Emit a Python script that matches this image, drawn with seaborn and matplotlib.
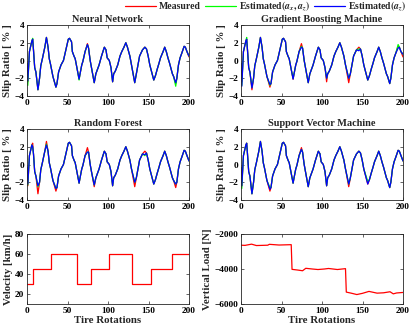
import numpy as np
import pandas as pd
import matplotlib
matplotlib.use("Agg")
import matplotlib.pyplot as plt
from matplotlib.lines import Line2D
import seaborn as sns

# ---------------- data ----------------
rot = [0, 1, 3, 6, 7, 8, 9.5, 11, 13.5, 15.5, 17, 19, 22, 24, 26, 27.5, 29, 32, 35.7, 37,
       39, 42, 45, 48, 51, 52.5, 55, 56, 58, 59.5, 62, 64.3, 65.5, 67.6, 69, 71.7, 74.6, 76,
       78, 80, 83, 85, 87, 89, 92, 95.5, 97.5, 99, 101.6, 103.7, 105.7, 107, 109, 112, 114.8,
       117, 119.7, 122, 124, 127, 129, 133, 135, 137, 139, 142.6, 145.5, 147.5, 149.6, 151.6,
       156.5, 158.6, 160.7, 163, 164.8, 168, 170, 172, 174, 176, 179.5, 181, 183.6, 185, 187,
       189, 191, 194, 195.5, 197.5, 200]
measured = [-0.3, -2.4, 1.0, 2.2, 2.4, 1.2, -0.8, -1.3, -3.3, -2.0, -0.6, 0.2, 1.5, 2.6, 1.5,
            0.2, -0.4, -1.8, -3.0, -2.6, -1.3, -0.5, 0.0, 1.2, 2.4, 2.5, 2.1, 1.0, 0.5, 0.2,
            -1.0, -2.1, -1.5, -0.5, -0.1, 1.0, 1.9, 1.4, 0.0, -1.0, -2.5, -1.5, -1.0, -0.5, 0.5,
            1.5, 1.2, 0.3, 0.0, -0.8, -2.4, -1.5, -1.2, -0.5, 0.5, 1.0, 1.5, 2.0, 1.5, 0.5,
            -0.5, -2.5, -1.5, -0.5, 0.5, 1.2, 1.5, 1.3, 0.5, -0.5, -2.2, -1.7, -1.0, -0.3, 0.3,
            1.0, 1.5, 1.0, 0.3, -0.3, -1.5, -1.8, -2.6, -2.0, -0.5, 0.3, 0.8, 1.6, 1.5, 1.0, 0.4]

# estimated values that differ from the measured ones (rotation -> slip ratio)
nn_axaz_diff = {1: -2.8, 7: 2.5, 64.3: -2.2, 74.6: 1.8, 183.6: -2.9, 200: 0.5}
nn_az_diff = {1: -2.3, 74.6: 1.8, 183.6: -2.5, 200: 0.5}
gbm_axaz_diff = {1: -2.8, 7: 2.6, 13.5: -3.0, 35.7: -2.8, 64.3: -2.0, 74.6: 1.6, 105.7: -2.0,
                 133: -2.0, 145.5: 1.3, 194: 1.8, 200: 0.7}
gbm_az_diff = {1: -2.9, 13.5: -3.1, 35.7: -2.7, 74.6: 1.5, 105.7: -2.0, 133: -2.0, 145.5: 1.1,
               194: 1.4, 200: 0.7}
rf_axaz_diff = {1: -2.3, 7: 2.0, 13.5: -2.5, 24: 2.3, 35.7: -2.7, 74.6: 1.4, 83: -2.3,
                133: -2.0, 145.5: 1.0, 183.6: -2.2}
rf_az_diff = {1: -2.2, 7: 2.0, 13.5: -2.4, 24: 2.2, 35.7: -2.7, 74.6: 1.4, 83: -2.3,
              133: -2.0, 145.5: 1.1, 183.6: -2.2}
svm_axaz_diff = {1: -2.7, 35.7: -2.6, 74.6: 1.7, 83: -2.5, 133: -2.2, 156.5: -1.9}
svm_az_diff = {1: -2.4, 13.5: -3.3, 35.7: -2.8, 74.6: 1.7, 133: -2.2}

vel_x = [0, 7, 7, 30, 30, 62, 62, 79, 79, 101.6, 101.6, 130, 130, 153, 153, 179, 179, 200]
vel_y = [30, 30, 45, 45, 60, 60, 30, 30, 45, 45, 60, 60, 30, 30, 45, 45, 60, 60]

load_x = [0, 5, 13, 19, 33, 35, 47, 62, 63, 70, 76, 80, 88, 95, 103, 108, 119, 129, 130,
          136, 143, 150, 158, 168, 176, 184, 188, 192, 200]
load_y = [-2640, -2650, -2580, -2660, -2640, -2590, -2630, -2610, -4020, -4060, -4100, -3960,
          -4000, -4030, -4000, -3970, -4030, -3980, -5320, -5380, -5460, -5390, -5280, -5380,
          -5360, -5300, -5420, -5370, -5340]

titles = ["Neural Network", "Gradient Boosting Machine", "Random Forest", "Support Vector Machine"]
diffs = [(nn_axaz_diff, nn_az_diff), (gbm_axaz_diff, gbm_az_diff),
         (rf_axaz_diff, rf_az_diff), (svm_axaz_diff, svm_az_diff)]

lab_m = "Measured"
lab_g = r"Estimated$(a_x, a_z)$"
lab_b = r"Estimated$(a_z)$"
palette = {lab_m: "#ff0000", lab_g: "#00ff00", lab_b: "#0000ff"}

# ---------------- style ----------------
sns.set_style("ticks")
plt.rcParams.update({
    "font.family": ["Liberation Serif", "DejaVu Serif"],
    "font.weight": "bold",
    "axes.labelweight": "bold",
    "axes.titleweight": "bold",
    "mathtext.fontset": "stix",
    "xtick.direction": "in",
    "ytick.direction": "in",
    "xtick.top": True,
    "ytick.right": True,
    "xtick.major.size": 2.5,
    "ytick.major.size": 2.5,
    "xtick.major.width": 0.5,
    "ytick.major.width": 0.5,
    "axes.linewidth": 0.6,
    "axes.edgecolor": "#262626",
    "xtick.color": "#262626",
    "ytick.color": "#262626",
    "xtick.labelcolor": "black",
    "ytick.labelcolor": "black",
    "xtick.labelsize": 6.7,
    "ytick.labelsize": 6.7,
})

fig = plt.figure(figsize=(4.15, 3.3), dpi=100)
W, H = 415.0, 330.0
def add_ax(x0, x1, y0, y1):
    return fig.add_axes([x0 / W, 1 - y1 / H, (x1 - x0) / W, (y1 - y0) / H])

cols = [(27, 189), (241, 403)]
rows = [(25, 96), (129, 200), (234, 304)]
LW = 0.9
LABEL_FS = 7.8

def est(diff):
    return [diff.get(r, m) for r, m in zip(rot, measured)]

for k, title in enumerate(titles):
    r, c = divmod(k, 2)
    ax = add_ax(cols[c][0], cols[c][1], rows[r][0], rows[r][1])
    g, b = diffs[k]
    df = pd.DataFrame({
        "rot": rot * 3,
        "slip": measured + est(g) + est(b),
        "series": [lab_m] * len(rot) + [lab_g] * len(rot) + [lab_b] * len(rot),
    })
    sns.lineplot(data=df, x="rot", y="slip", hue="series", palette=palette, ax=ax,
                 linewidth=LW, legend=False, estimator=None, sort=False)
    ax.set_xlim(0, 200)
    ax.set_ylim(-4, 4)
    ax.set_xticks([0, 50, 100, 150, 200])
    ax.set_yticks([-4, -2, 0, 2, 4])
    ax.set_title(title, fontsize=7.4, fontweight="bold", pad=2.5)
    ax.set_xlabel("")
    ax.set_ylabel("Slip Ratio [ % ]", fontsize=LABEL_FS, labelpad=1.5)
    ax.tick_params(pad=2)

ax = add_ax(cols[0][0], cols[0][1], rows[2][0], rows[2][1])
sns.lineplot(x=vel_x, y=vel_y, color="#ff0000", linewidth=LW, ax=ax, estimator=None, sort=False)
ax.set_xlim(0, 200)
ax.set_ylim(10, 80)
ax.set_xticks([0, 50, 100, 150, 200])
ax.set_yticks([20, 40, 60, 80])
ax.set_xlabel("Tire Rotations", fontsize=LABEL_FS, labelpad=1)
ax.set_ylabel("Velocity [km/h]", fontsize=LABEL_FS, labelpad=1.5)
ax.tick_params(pad=2)

ax = add_ax(cols[1][0], cols[1][1], rows[2][0], rows[2][1])
sns.lineplot(x=load_x, y=load_y, color="#ff0000", linewidth=LW, ax=ax, estimator=None, sort=False)
ax.set_xlim(0, 200)
ax.set_ylim(-6000, -2000)
ax.set_xticks([0, 50, 100, 150, 200])
ax.set_yticks([-6000, -4000, -2000])
ax.set_xlabel("Tire Rotations", fontsize=LABEL_FS, labelpad=1)
ax.set_ylabel("Vertical Load [N]", fontsize=LABEL_FS, labelpad=1.5)
ax.tick_params(pad=2)

handles = [Line2D([], [], color=palette[l], linewidth=LW) for l in (lab_m, lab_g, lab_b)]
fig.legend(handles, [lab_m, lab_g, lab_b], loc="upper right", bbox_to_anchor=(1.0, 1.028),
           ncol=3, frameon=False, fontsize=7.0, handlelength=3.2, handletextpad=0.3,
           columnspacing=0.4)

fig.savefig("out.png", dpi=100)
